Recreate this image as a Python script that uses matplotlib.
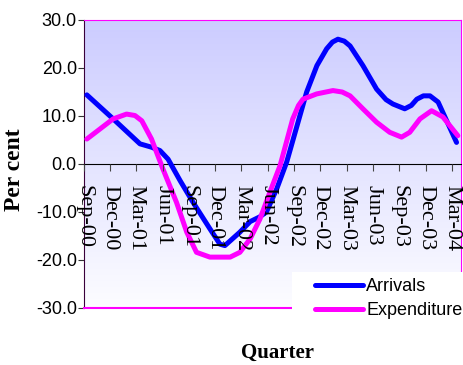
import numpy as np
import matplotlib
matplotlib.use("Agg")
import matplotlib.pyplot as plt
from matplotlib.patches import Rectangle

# quarter labels along the x axis
quarters = ['Sep-00', 'Dec-00', 'Mar-01', 'Jun-01', 'Sep-01', 'Dec-01', 'Mar-02',
            'Jun-02', 'Sep-02', 'Dec-02', 'Mar-03', 'Jun-03', 'Sep-03', 'Dec-03', 'Mar-04']

# traced points (x in quarter units, y in per cent)
arr_x = [0.12, 1.12, 2.14, 2.58, 2.90, 3.21, 3.67, 4.16, 4.80, 5.18, 5.37, 5.94, 6.33,
         6.70, 6.95, 7.34, 7.72, 8.48, 8.87, 9.24, 9.46, 9.67, 9.91, 10.13, 10.62, 11.14,
         11.50, 11.76, 12.21, 12.46, 12.67, 12.92, 13.17, 13.48, 14.18]
arr_y = [14.4, 9.4, 4.2, 3.5, 2.8, 1.0, -3.5, -8.0, -13.5, -16.7, -17.0, -14.2, -12.0,
         -11.0, -10.0, -5.2, 0.4, 15.0, 20.5, 24.0, 25.4, 26.0, 25.6, 24.6, 20.5, 15.6,
         13.4, 12.5, 11.5, 12.2, 13.5, 14.2, 14.2, 12.9, 4.5]

exp_x = [0.12, 1.12, 1.63, 1.95, 2.21, 2.58, 3.01, 3.53, 3.92, 4.29, 4.80, 5.57, 5.94,
         6.33, 6.70, 7.08, 7.47, 7.95, 8.17, 8.34, 8.86, 9.48, 9.83, 10.13, 10.62, 11.14,
         11.64, 12.09, 12.40, 12.79, 13.23, 13.66, 14.23]
exp_y = [5.2, 9.4, 10.4, 10.1, 9.0, 5.2, -1.0, -8.0, -14.2, -18.4, -19.4, -19.4, -18.4,
         -15.6, -11.5, -5.9, -0.3, 9.4, 12.2, 13.5, 14.6, 15.3, 15.0, 14.2, 11.5, 8.7,
         6.6, 5.6, 6.6, 9.4, 11.1, 9.8, 5.9]

fig = plt.figure(figsize=(4.63, 3.65), dpi=100)
ax = fig.add_axes([83.7/463, 1-308/365, (461-83.7)/463, (308-20)/365])

xmax = 14.35
ax.set_xlim(0, xmax)
ax.set_ylim(-30, 30)

# gradient background of plot area
grad = np.linspace(0, 1, 256).reshape(-1, 1)
top = np.array([0.80, 0.80, 1.0])
bot = np.array([0.99, 0.99, 1.0])
img = top + (bot - top) * grad[:, :, None].repeat(1, axis=1)
ax.imshow(img, extent=[0, xmax, -30, 30], aspect='auto', zorder=0, origin='upper')

ax.plot(arr_x, arr_y, color='#0000ff', lw=3.6, solid_joinstyle='round',
        solid_capstyle='round', label='Arrivals', zorder=3)
ax.plot(exp_x, exp_y, color='#ff00ff', lw=3.6, solid_joinstyle='round',
        solid_capstyle='round', label='Expenditure', zorder=3)

# spines
ax.spines['top'].set_color('#ff00ff')
ax.spines['right'].set_color('#ff00ff')
ax.spines['left'].set_color('#3a003a')
ax.spines['bottom'].set_position(('data', 0))
ax.spines['bottom'].set_color('black')
ax.axhline(-30, color='#ff00ff', lw=1.5, zorder=4, clip_on=False)

ax.set_xticks(range(len(quarters)))
ax.set_xticklabels(quarters, rotation=270, fontfamily='Liberation Serif', fontsize=16)
ax.tick_params(axis='x', direction='out', length=5, color='#444444', pad=10)
ax.xaxis.set_zorder(5)  # labels sit on top of the lines

ax.set_yticks([-30, -20, -10, 0, 10, 20, 30])
ax.set_yticklabels(['%.1f' % v for v in [-30, -20, -10, 0, 10, 20, 30]],
                   fontfamily='Liberation Sans', fontsize=13)
ax.tick_params(axis='y', direction='out', length=4, color='#333333', pad=1)

fig.text(15/463, 1-170/365, 'Per cent', rotation=90, fontfamily='Liberation Serif',
         fontweight='bold', fontsize=17, ha='center', va='center')
fig.text(277/463, 1-353/365, 'Quarter', fontfamily='Liberation Serif',
         fontweight='bold', fontsize=15, ha='center', va='center')

# white legend box covering the lower right corner
box = Rectangle((292/463, 1-328/365), (463-292)/463, (328-272)/365,
                transform=fig.transFigure, facecolor='white', edgecolor='none',
                clip_on=False, zorder=9)
ax.add_patch(box)

leg = ax.legend(loc='upper left', bbox_to_anchor=(315/463, 1-278/365),
                bbox_transform=fig.transFigure, frameon=False,
                prop={'family': 'Liberation Sans', 'size': 13},
                handlelength=2.65, handletextpad=0.2, borderpad=0,
                labelspacing=0.38, borderaxespad=0)
leg.set_zorder(10)

fig.savefig('out.png', dpi=100)
